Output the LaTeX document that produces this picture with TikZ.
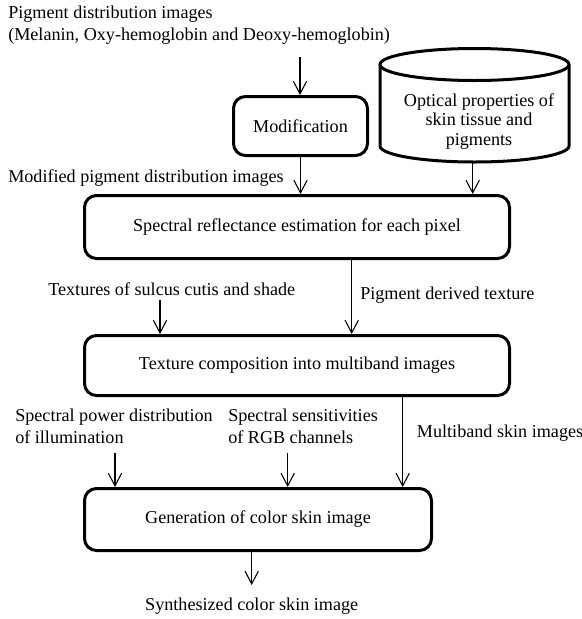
\documentclass[tikz,border=0pt]{standalone}
\usepackage{fontspec}
\setmainfont{Liberation Serif}
\usetikzlibrary{arrows.meta}
\begin{document}
\begin{tikzpicture}[x=0.75pt,y=-0.75pt,
  every node/.style={font=\fontsize{13.6}{16}\selectfont},
  stage/.style={draw,line width=2.25pt,rounded corners=9pt,inner sep=0pt},
  lbl/.style={anchor=base west,inner sep=0pt,align=left},
  arr/.style={-{Straight Barb[length=9.5pt,width=10pt]},line width=0.8pt}]
\useasboundingbox (0,0) rectangle (582,619);
% input texts (multi-line ones sit on their last line)
\node[lbl] (pig) at (8,40) {Pigment distribution images\\(Melanin, Oxy-hemoglobin and Deoxy-hemoglobin)};
\node[lbl] (modpig) at (8,182) {Modified pigment distribution images};
\node[lbl] (sulcus) at (48,295) {Textures of sulcus cutis and shade};
\node[lbl] (pdt) at (360,299) {Pigment derived texture};
\node[lbl] (spd) at (15,443) {Spectral power distribution\\of illumination};
\node[lbl] (rgb) at (228,443) {Spectral sensitivities\\of RGB channels};
\node[lbl] (mband) at (416.7,437) {Multiband skin images};
\node[anchor=base,inner sep=0pt] (synth) at (251.7,610) {Synthesized color skin image};
% processing boxes
\node[stage,minimum width=100.5pt,minimum height=44.25pt] (mod) at (300.5,126) {Modification};
\node[stage,minimum width=318.75pt,minimum height=47.25pt] (refl) at (297,227) {Spectral reflectance estimation for each pixel};
\node[stage,minimum width=318.75pt,minimum height=45pt] (comp) at (297,365.5) {Texture composition into multiband images};
\node[stage,minimum width=260.25pt,minimum height=46.5pt] (gen) at (258,519.5) {Generation of color skin image};
% database
\draw[line width=2.25pt] (474.5,64.5) ellipse[x radius=94.5,y radius=16];
\draw[line width=2.25pt] (380,64.5) -- (380,146) arc[start angle=180,end angle=0,x radius=94.5,y radius=16] -- (569,64.5);
\node[anchor=base,inner sep=0pt,align=center,font=\fontsize{13.6}{14.6}\selectfont] (optics) at (479,145) {Optical properties of\\skin tissue and\\pigments};
% arrow ends
\coordinate (pigin) at (300,57);
\coordinate (dbout) at (472.7,162);
\coordinate (texin) at (160,300);
\coordinate (pdtx) at (351.7,0);
\coordinate (spdin) at (115,453);
\coordinate (rgbin) at (287.7,453);
\coordinate (mbx) at (402.7,0);
\coordinate (synout) at (251.7,585);
% connectors
\draw[arr] (pigin) -- (pigin |- mod.north);
\draw[arr] (mod.south) -- (mod.south |- refl.north);
\draw[arr] (dbout) -- (dbout |- refl.north);
\draw[arr] (texin) -- (texin |- comp.north);
\draw[arr] (pdtx |- refl.south) -- (pdtx |- comp.north);
\draw[arr] (spdin) -- (spdin |- gen.north);
\draw[arr] (rgbin) -- (rgbin |- gen.north);
\draw[arr] (mbx |- comp.south) -- (mbx |- gen.north);
\draw[arr] (synout |- gen.south) -- (synout);
\end{tikzpicture}
\end{document}
